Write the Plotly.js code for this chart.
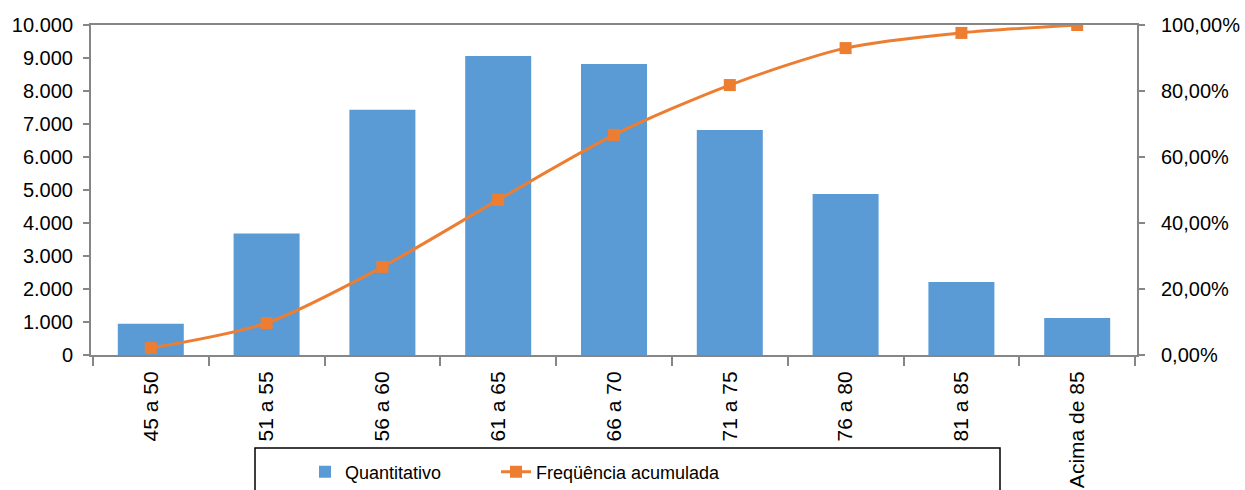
<!DOCTYPE html>
<html>
<head>
<meta charset="utf-8">
<script src="https://cdn.plot.ly/plotly-3.0.1.min.js"></script>
<style>html,body{margin:0;padding:0;background:#fff;}#chart{width:1245px;height:490px;}</style>
</head>
<body>
<div id="chart"></div>
<script>
const categories = ["45 a 50","51 a 55","56 a 60","61 a 65","66 a 70","71 a 75","76 a 80","81 a 85","Acima de 85"];
const quantitativo = [950, 3680, 7430, 9060, 8820, 6820, 4880, 2210, 1120];
const freqAcumulada = [0.021, 0.097, 0.267, 0.47, 0.667, 0.818, 0.93, 0.976, 1.0];
const leftTicks = [0,1000,2000,3000,4000,5000,6000,7000,8000,9000,10000];
const rightTicks = [0,0.2,0.4,0.6,0.8,1.0];

const axisColor = '#868686';
const yTickFont = {family: 'Liberation Sans, Arial, sans-serif', size: 20, color: '#000'};
const xTickFont = {family: 'Liberation Sans, Arial, sans-serif', size: 21, color: '#000'};
const legendFont = {family: 'Liberation Sans, Arial, sans-serif', size: 18, color: '#000'};

const traces = [
  {
    type: 'bar', name: 'Quantitativo', x: categories, y: quantitativo,
    marker: {color: '#5B9BD5'}, width: 0.57, yaxis: 'y', legend: 'legend'
  },
  {
    type: 'scatter', mode: 'lines+markers', name: 'Freqüência acumulada',
    x: categories, y: freqAcumulada, yaxis: 'y2', legend: 'legend2',
    line: {color: '#ED7D31', width: 3, shape: 'spline', smoothing: 0.8},
    marker: {color: '#ED7D31', symbol: 'square', size: 12}
  }
];

const legendBase = {
  orientation: 'h', xanchor: 'left', y: -(472-355)/330, yanchor: 'middle',
  font: legendFont, bgcolor: 'rgba(0,0,0,0)', borderwidth: 0
};

const layout = {
  width: 1245, height: 490,
  margin: {l: 91, r: 108, t: 25, b: 135, autoexpand: false},
  paper_bgcolor: '#fff', plot_bgcolor: '#fff',
  separators: ',.',
  showlegend: true,
  bargap: 0.43,
  xaxis: {
    type: 'category', showline: true, mirror: true, linecolor: axisColor, linewidth: 2,
    ticks: 'outside', tickson: 'boundaries', ticklen: 9, tickcolor: axisColor, tickwidth: 2,
    tickangle: -90, tickfont: xTickFont, showgrid: false, automargin: false, ticklabelstandoff: 6
  },
  yaxis: {
    range: [0, 10000], tickvals: leftTicks, tickformat: ',.0f',
    showline: true, linecolor: axisColor, linewidth: 2, ticks: 'outside', ticklen: 6,
    tickcolor: axisColor, tickwidth: 2, showgrid: false, zeroline: false, tickfont: yTickFont,
    automargin: false, ticklabelstandoff: 6
  },
  yaxis2: {
    range: [0, 1], tickvals: rightTicks, tickformat: '.2%', overlaying: 'y', side: 'right',
    showline: true, linecolor: axisColor, linewidth: 2, ticks: 'outside', ticklen: 6,
    tickcolor: axisColor, tickwidth: 2, showgrid: false, zeroline: false, tickfont: yTickFont,
    automargin: false, ticklabelstandoff: 12
  },
  legend: Object.assign({}, legendBase, {x: (305-91)/1046}),
  legend2: Object.assign({}, legendBase, {x: (496-91)/1046}),
  shapes: [{
    type: 'rect', xref: 'paper', yref: 'paper',
    x0: (255-91)/1046, x1: (1000-91)/1046, y0: -(448-355)/330, y1: -(520-355)/330,
    line: {color: '#000', width: 1.5}, fillcolor: 'rgba(0,0,0,0)'
  }]
};

Plotly.newPlot('chart', traces, layout, {displayModeBar: false, staticPlot: true});
</script>
</body>
</html>
